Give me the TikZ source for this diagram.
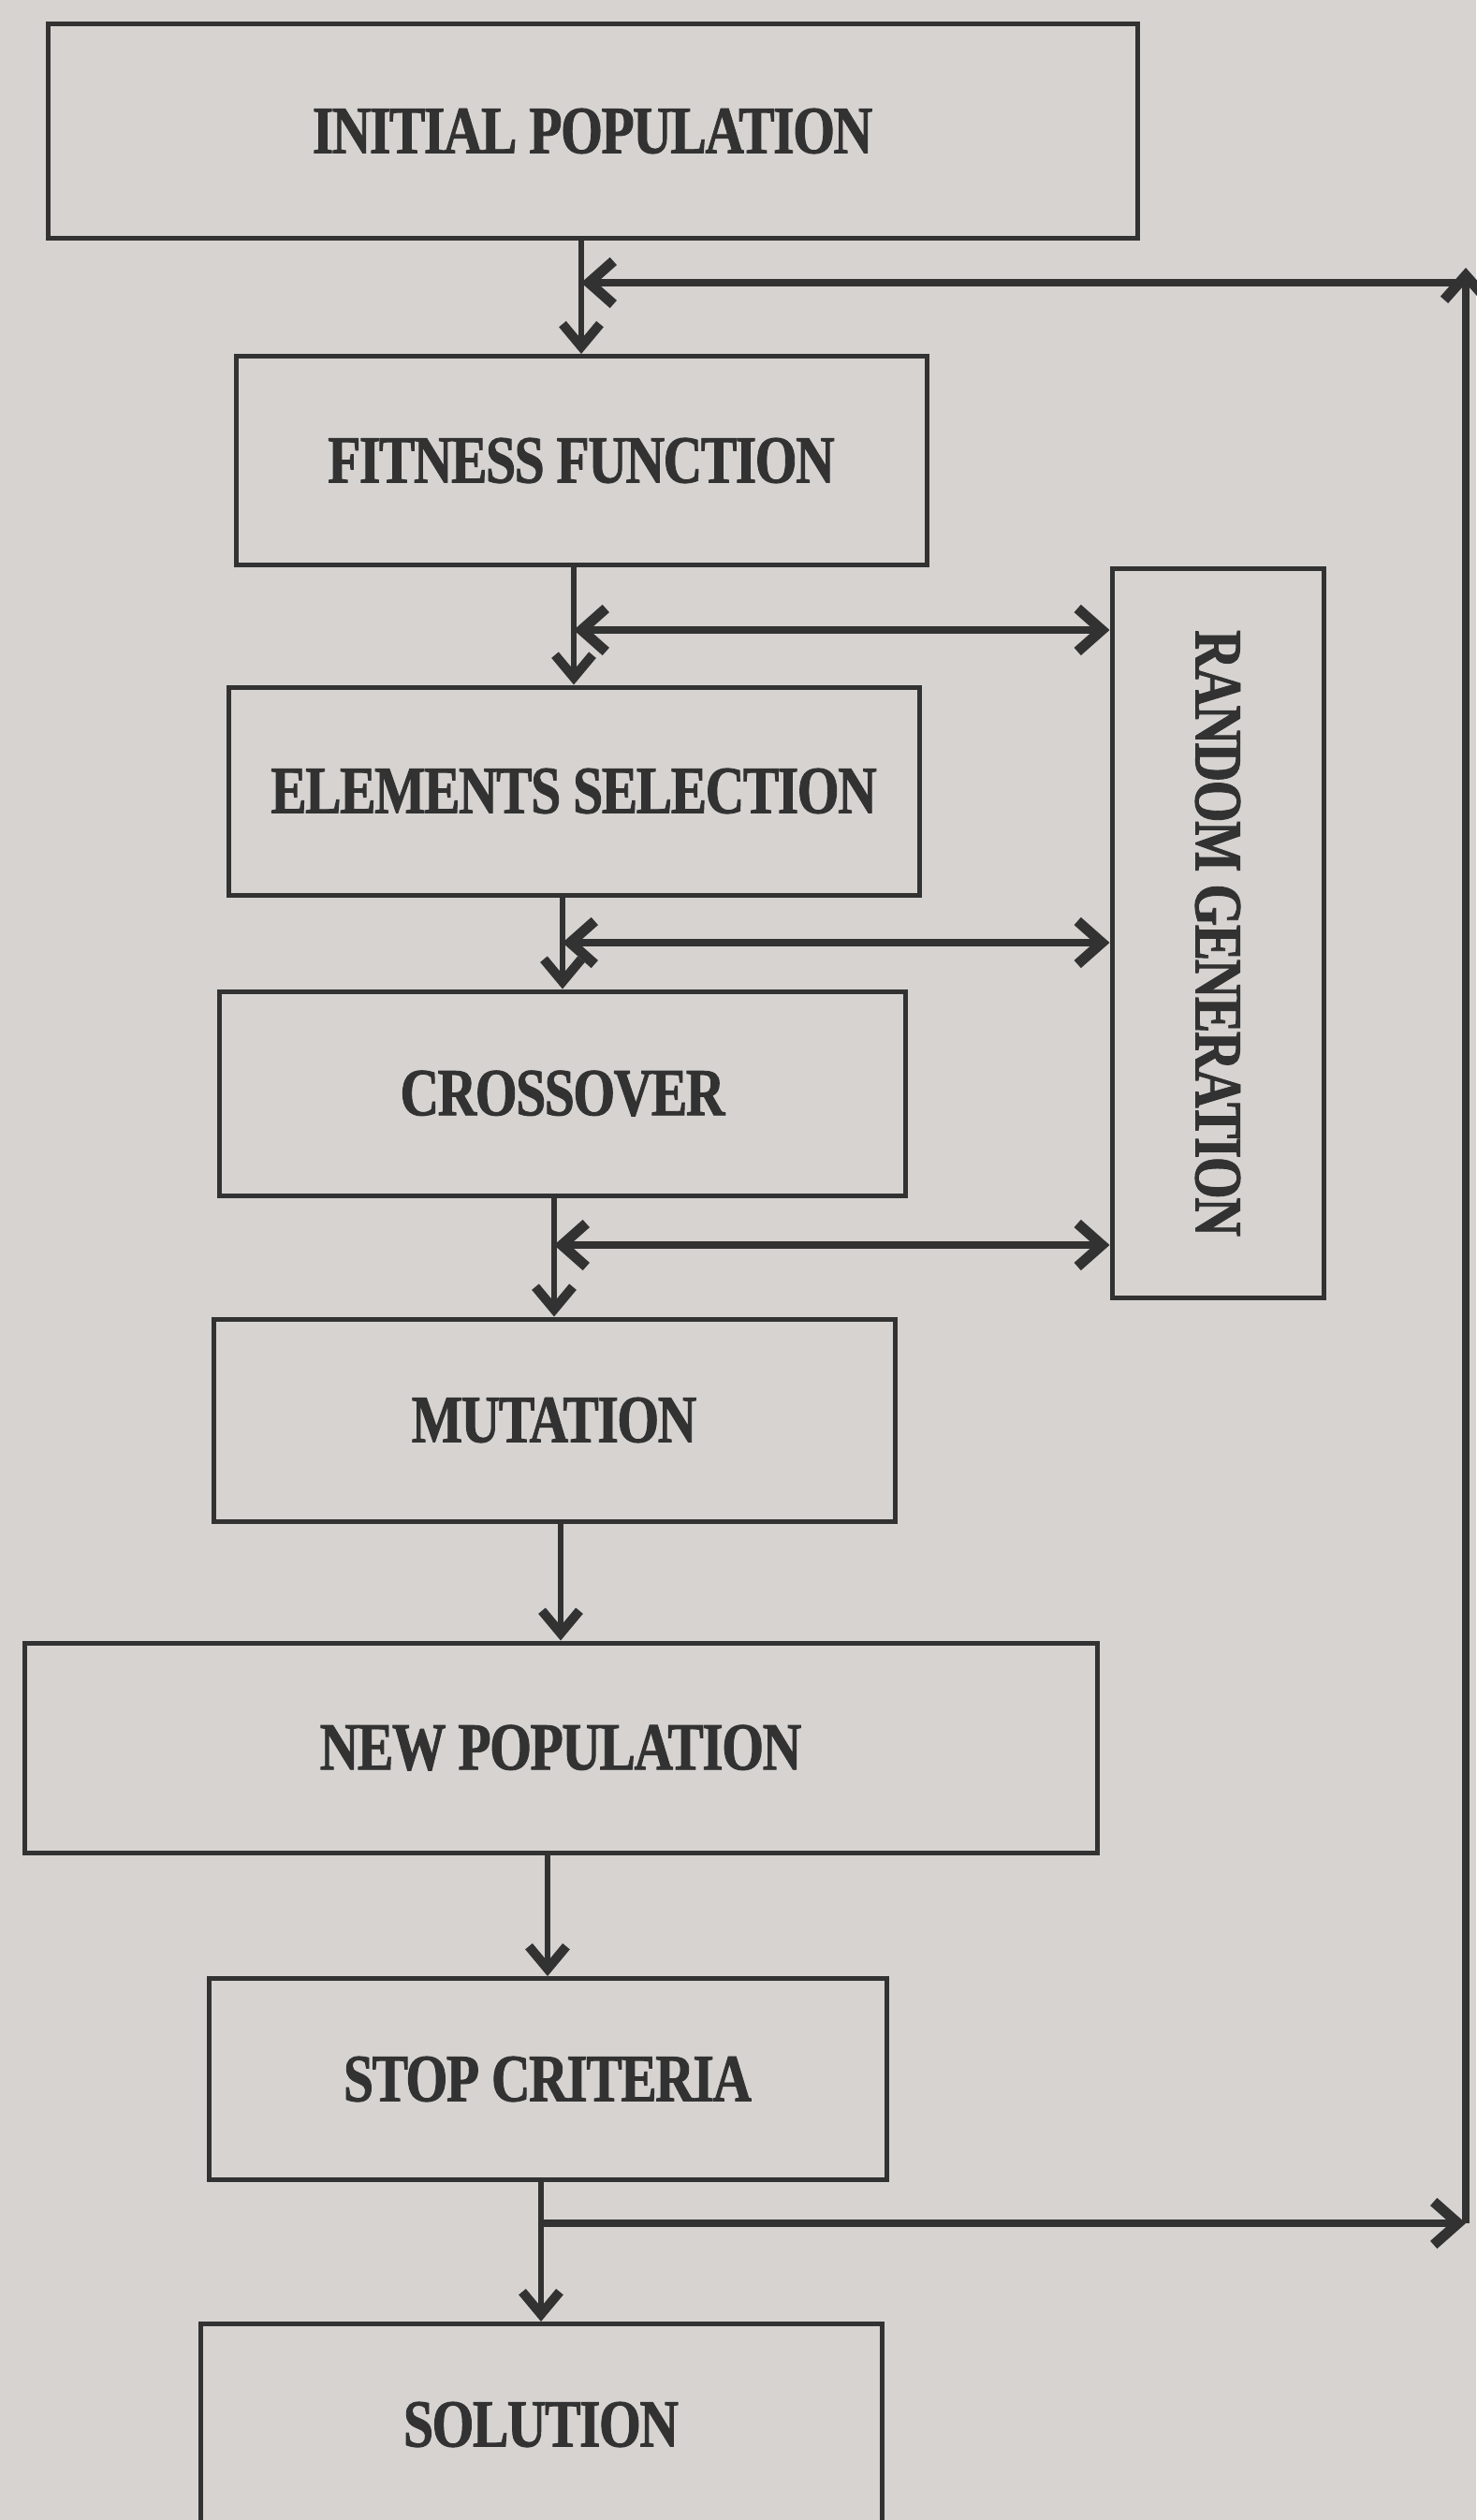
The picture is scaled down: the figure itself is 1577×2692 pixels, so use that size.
\documentclass[tikz,border=0pt]{standalone}
\usepackage{fontspec}
\usepackage{graphicx}
\newfontfamily\boxfont{Liberation Serif}[FakeStretch=0.8,LetterSpace=-2,BoldFeatures={FakeBold=1.2}]
\usetikzlibrary{positioning,calc,arrows.meta}
\definecolor{paper}{RGB}{214,211,209}
\definecolor{ink}{RGB}{50,50,50}

\begin{document}
\begin{tikzpicture}
   [x=1pt,y=-1pt,
    stage/.style 2 args={rectangle,draw=ink,line width=5pt,text=ink,
      minimum width=#1,minimum height=#2,inner sep=0pt,
      font=\boxfont\bfseries\fontsize{72}{80}\selectfont},
    flow/.style={draw=ink,line width=5.5pt,
      -{Straight Barb[length=24pt,width=40pt,line width=10pt]}},
    link/.style={draw=ink,line width=8pt,
      {Straight Barb[length=26pt,width=46pt,line width=11pt]}-{Straight Barb[length=26pt,width=46pt,line width=11pt]}},
    loop/.style={draw=ink,line width=8pt,
      -{Straight Barb[length=26pt,width=46pt,line width=11pt]}}]
\fill[paper] (0,0) rectangle (1577,2692);
\useasboundingbox (0,0) rectangle (1577,2692);
\node[stage={1164pt}{228pt}] (init)   at (633,140)  {INITIAL POPULATION};
\node[stage={738pt}{223pt}]  (fit)    at (621,492)  {FITNESS FUNCTION};
\node[stage={738pt}{222pt}]  (sel)    at (613,845)  {ELEMENTS SELECTION};
\node[stage={733pt}{218pt}]  (cross)  at (601,1168) {CROSSOVER};
\node[stage={728pt}{216pt}]  (mut)    at (592,1517) {MUTATION};
\node[stage={1146pt}{224pt}] (newpop) at (599,1867) {NEW POPULATION};
\node[stage={724pt}{215pt}]  (stop)   at (585,2221) {STOP CRITERIA};
\node[stage={728pt}{215pt}]  (sol)    at (578,2590) {SOLUTION};
\node[stage={226pt}{779pt}]  (rand)   at (1301,997) {\rotatebox{-90}{RANDOM GENERATION}};
\draw[flow] (init.south -| fit.north) -- (fit.north);
\draw[flow] (fit.south -| sel.north) -- (sel.north);
\draw[flow] (sel.south -| cross.north) -- (cross.north);
\draw[flow] (cross.south -| mut.north) -- (mut.north);
\draw[flow] (mut.south -| newpop.north) -- (newpop.north);
\draw[flow] (newpop.south -| stop.north) -- (stop.north);
\draw[flow] (stop.south -| sol.north) -- (sol.north);
\coordinate (r1) at (sel.north |- 0,673);
\coordinate (r2) at (cross.north |- 0,1007);
\coordinate (r3) at (mut.north |- 0,1330);
\draw[link] (r1) -- (r1 -| rand.west);
\draw[link] (r2) -- (r2 -| rand.west);
\draw[link] (r3) -- (r3 -| rand.west);
\coordinate (b0) at (sol.north |- 0,2375);
\coordinate (b1) at (1566,2375);
\coordinate (b2) at (1566,286);
\coordinate (b3) at (fit.north |- 0,302);
\draw[loop] (b0) -- (b1);
\draw[loop] (b1) -- (b2);
\draw[loop] (b1 |- b3) -- (b3);
\end{tikzpicture}
\end{document}
